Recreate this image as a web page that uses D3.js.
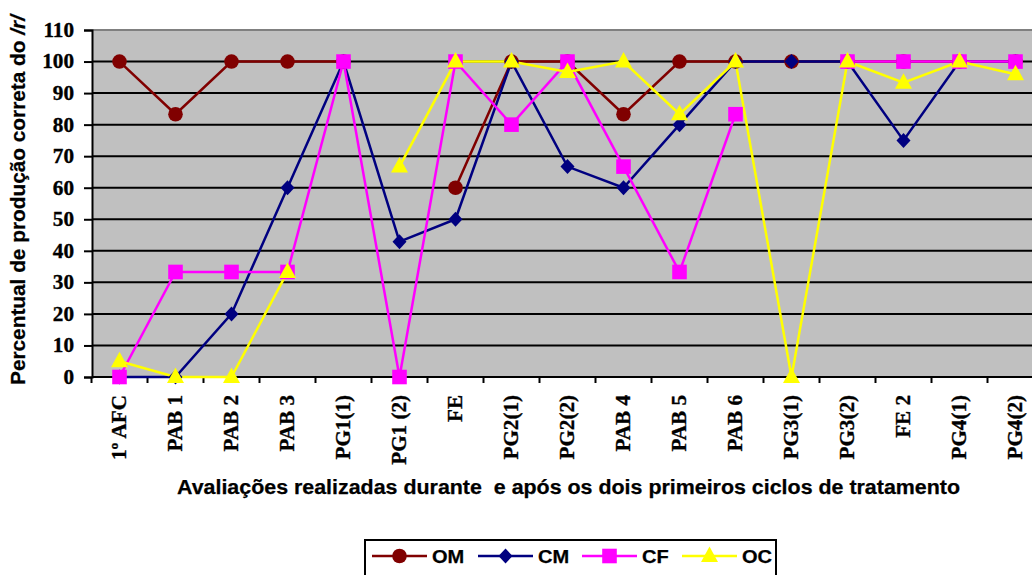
<!DOCTYPE html>
<html><head><meta charset="utf-8">
<script src="https://cdn.jsdelivr.net/npm/d3@7"></script>
<style>body{margin:0;background:#fff}svg{display:block}</style>
</head><body>
<svg id="c" width="1032" height="575"></svg>
<script>
const categories = ["1º AFC","PAB 1","PAB 2","PAB 3","PG1(1)","PG1 (2)","FE","PG2(1)","PG2(2)","PAB 4","PAB 5","PAB 6","PG3(1)","PG3(2)","FE 2","PG4(1)","PG4(2)"];
const OM = [100,83.3,100,100,100,null,60,100,100,83.3,100,100,100,100,100,100,100];
const CM = [0,0,20,60,100,42.9,50,100,66.7,60,80,100,100,100,75,100,100];
const CF = [0,33.3,33.3,33.3,100,0,100,80,100,66.7,33.3,83.3,null,100,100,100,100];
const OC = [5,0,0,33.3,null,66.7,100,100,96.7,100,83.3,100,0,100,93.3,100,96];
const yTicks = [0,10,20,30,40,50,60,70,80,90,100,110];
const seriesNames = ["OM","CM","CF","OC"];
const seriesColors = ["#800000","#000080","#FF00FF","#FFFF00"];
const seriesData = [OM,CM,CF,OC];

const SERIF = "'Liberation Serif', 'Times New Roman', serif";
const SANS = "'Liberation Sans', Arial, sans-serif";

// custom marker shapes
const shapeCircle = { draw(ctx){ ctx.moveTo(7.3,0); ctx.arc(0,0,7.3,0,2*Math.PI); } };
const shapeDiamond = { draw(ctx){ ctx.moveTo(0,-7.5); ctx.lineTo(7,0); ctx.lineTo(0,7.5); ctx.lineTo(-7,0); ctx.closePath(); } };
const shapeSquare = { draw(ctx){ ctx.rect(-7.3,-7.3,14.6,14.6); } };
const shapeTriangle = { draw(ctx){ ctx.moveTo(0,-9.5); ctx.lineTo(8.5,6); ctx.lineTo(-8.5,6); ctx.closePath(); } };
const seriesShapes = [shapeCircle, shapeDiamond, shapeSquare, shapeTriangle];

// stretch a group of texts so that a reference label reaches its measured width
function fitGroup(sel, refNode, targetWidth) {
  const w = refNode.getComputedTextLength();
  if (!w) return;
  const k = Math.max(1, targetWidth / w);
  sel.each(function(){
    const len = this.getComputedTextLength();
    d3.select(this).attr("textLength", len * k).attr("lengthAdjust", "spacingAndGlyphs");
  });
}
function heavy(sel, w) { return sel.attr("stroke", "#000").attr("stroke-width", w).attr("stroke-linejoin", "round"); }

const svg = d3.select("#c");
const L = 92, T = 30, B = 377;
const x = d3.scaleBand().domain(categories).range([91.5, 91.5 + 56*17]);
const y = d3.scaleLinear().domain([0,110]).range([B, T]);

// plot background
svg.append("rect").attr("x", L).attr("y", T).attr("width", 1032 - L).attr("height", B - T).attr("fill", "#C0C0C0");
svg.append("line").attr("x1", L).attr("x2", 1032).attr("y1", T).attr("y2", T).attr("stroke", "#808080").attr("stroke-width", 2);

// gridlines
svg.append("g").selectAll("line").data(yTicks.filter(t => t > 0 && t < 110)).join("line")
  .attr("x1", L).attr("x2", 1032).attr("y1", d => y(d)).attr("y2", d => y(d))
  .attr("stroke", "#000").attr("stroke-width", 2);

// y axis
const yAxis = svg.append("g").attr("transform", `translate(${L},0)`)
  .call(d3.axisLeft(y).tickValues(yTicks).tickSize(8).tickPadding(10));
yAxis.attr("font-family", null).attr("font-size", null);
yAxis.select(".domain").attr("stroke", "#000").attr("stroke-width", 2);
yAxis.selectAll(".tick line").attr("stroke", "#000").attr("stroke-width", 2);
const yText = yAxis.selectAll(".tick text")
  .style("font-family", SERIF).style("font-weight", "bold").style("font-size", "20px").attr("fill", "#000");
heavy(yText, 0.35);
fitGroup(yText, yText.filter(d => d === 110).node(), 30.6);

// x axis
const xAxis = svg.append("g").attr("transform", `translate(0,${B})`)
  .call(d3.axisBottom(x).tickSize(0).tickPadding(0));
xAxis.attr("font-family", null).attr("font-size", null);
xAxis.select(".domain").remove();
svg.append("line").attr("x1", L).attr("x2", 1032).attr("y1", B).attr("y2", B).attr("stroke", "#000").attr("stroke-width", 2);
svg.append("g").selectAll("line").data(categories).join("line")
  .attr("x1", d => x(d)).attr("x2", d => x(d)).attr("y1", B).attr("y2", B + 6)
  .attr("stroke", "#000").attr("stroke-width", 2);
const xText = xAxis.selectAll(".tick text")
  .attr("transform", "translate(0,18) rotate(-90)")
  .attr("text-anchor", "end").attr("dx", 0).attr("dy", "0.33em").attr("x", 0).attr("y", 0)
  .style("font-family", SERIF).style("font-weight", "bold").style("font-size", "20.5px").attr("fill", "#000");
heavy(xText, 0.35);
fitGroup(xText, xText.filter(d => d === categories[0]).node(), 65);

// series
const cx = (i) => x(categories[i]) + x.bandwidth()/2;
const line = d3.line().defined(d => d.v != null).x(d => cx(d.i)).y(d => y(d.v));
seriesData.forEach((arr, s) => {
  const pts = arr.map((v,i) => ({v,i}));
  svg.append("path").attr("d", line(pts)).attr("fill","none")
    .attr("stroke", seriesColors[s]).attr("stroke-width", 2.5);
});
seriesData.forEach((arr, s) => {
  const pts = arr.map((v,i) => ({v,i})).filter(d => d.v != null);
  svg.append("g").selectAll("path").data(pts).join("path")
    .attr("d", d3.symbol().type(seriesShapes[s]))
    .attr("transform", d => `translate(${cx(d.i)},${y(d.v)})`)
    .attr("fill", seriesColors[s]);
});

// axis titles
const yt = svg.append("text").attr("transform", "translate(25,200) rotate(-90)")
  .attr("text-anchor", "middle")
  .style("font-family", SANS).style("font-weight", "bold").style("font-size", "19.5px").attr("fill", "#000");
yt.append("tspan").text("Percentual de produção correta do ");
yt.append("tspan").style("font-style","italic").text("/r/");
heavy(yt, 0.25);
if (yt.node().getComputedTextLength() < 370) yt.attr("textLength", 370).attr("lengthAdjust", "spacingAndGlyphs");
const xt = svg.append("text").attr("x", 568.5).attr("y", 494)
  .attr("text-anchor", "middle")
  .style("font-family", SANS).style("font-weight", "bold").style("font-size", "19.5px").attr("fill", "#000")
  .style("white-space","pre")
  .text("Avaliações realizadas durante  e após os dois primeiros ciclos de tratamento");
heavy(xt, 0.25);
if (xt.node().getComputedTextLength() < 783) xt.attr("textLength", 783).attr("lengthAdjust", "spacingAndGlyphs");

// legend
const lg = svg.append("g");
lg.append("rect").attr("x", 365).attr("y", 540).attr("width", 411).attr("height", 50)
  .attr("fill", "#fff").attr("stroke", "#000").attr("stroke-width", 2);
const legX = [372, 478, 582, 682];
const legTexts = [];
seriesNames.forEach((n, s) => {
  const g = lg.append("g").attr("transform", `translate(${legX[s]},556)`);
  g.append("line").attr("x1", 0).attr("x2", 55).attr("y1", 0).attr("y2", 0)
    .attr("stroke", seriesColors[s]).attr("stroke-width", 2.5);
  g.append("path").attr("d", d3.symbol().type(seriesShapes[s]))
    .attr("transform", `translate(27.5,0)`).attr("fill", seriesColors[s]);
  legTexts.push(heavy(g.append("text").attr("x", 60).attr("y", 7.3)
    .style("font-family", SANS).style("font-weight", "bold").style("font-size", "18.5px")
    .attr("fill", "#000").text(n), 0.25).node());
});
fitGroup(d3.selectAll(legTexts), legTexts[0], 32.3);
</script>
</body></html>
